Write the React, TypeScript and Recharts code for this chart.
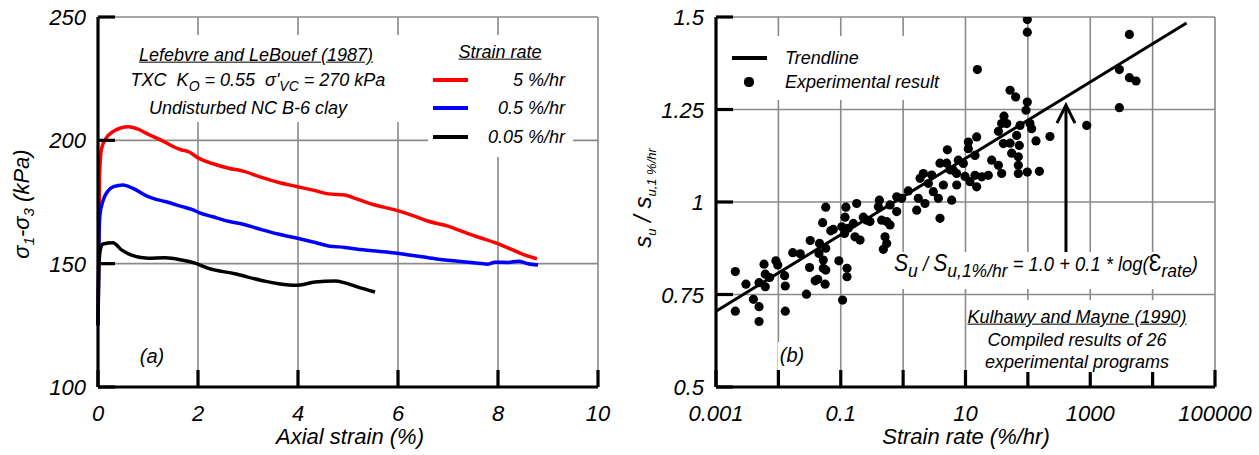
import {
  LineChart,
  Line,
  ScatterChart,
  Scatter,
  XAxis,
  YAxis,
  CartesianGrid,
  ReferenceLine,
} from 'recharts';

const FONT = '"Liberation Sans", Arial, Helvetica, sans-serif';

// (a) Lefebvre and LeBouef (1987), deviator stress vs axial strain
const strain5 = [0, 0.03, 0.07, 0.15, 0.3, 0.45, 0.61, 0.8, 1.0, 1.27, 1.5, 1.67, 1.8, 2.02, 2.3, 2.61, 2.9, 3.27, 3.6, 3.99, 4.3, 4.61, 4.94, 5.14, 5.5, 5.94, 6.3, 6.61, 7.0, 7.27, 7.6, 7.94, 8.27, 8.5, 8.78];
const stress5 = [125, 185, 196.5, 200.5, 203.5, 205, 205.5, 204.5, 202.5, 200, 197.5, 196.1, 195.5, 192.7, 190.5, 188.7, 187.5, 185, 183, 181.2, 179.8, 178.3, 177.8, 176.5, 174, 171.8, 169.5, 167.2, 165.2, 163.2, 160.8, 158.5, 155.8, 153.8, 152.0];

const strain05 = [0, 0.02, 0.04, 0.1, 0.2, 0.31, 0.5, 0.7, 0.94, 1.1, 1.34, 1.67, 1.9, 2.02, 2.3, 2.61, 2.9, 3.27, 3.6, 3.99, 4.3, 4.61, 4.94, 5.3, 5.6, 5.94, 6.3, 6.74, 7.2, 7.61, 7.8, 7.94, 8.2, 8.41, 8.6, 8.8];
const stress05 = [125, 160, 170, 175.5, 179.5, 181.2, 181.9, 180.5, 177.8, 176.5, 175.2, 173.2, 171.8, 170.7, 169, 167.2, 166, 163.8, 162, 160.3, 158.8, 157.2, 156.6, 155.6, 155, 154.3, 153.3, 152, 151, 150.2, 149.8, 150.6, 150.5, 151, 150, 149.5];

const strain005 = [0, 0.02, 0.05, 0.1, 0.3, 0.47, 0.67, 1.0, 1.34, 1.67, 1.94, 2.21, 2.74, 3.27, 3.81, 4.0, 4.34, 4.74, 4.94, 5.2, 5.54];
const stress005 = [125, 150, 156, 158, 158.5, 155.6, 153.5, 152.2, 152.4, 151.5, 150.2, 148.1, 145.9, 143.2, 141.4, 141.3, 142.6, 143, 142.2, 140.5, 138.5];

const strainTicks = [0, 2, 4, 6, 8, 10];
const stressTicks = [100, 150, 200, 250];

// (b) Kulhawy and Mayne (1990), normalised strength vs strain rate
const expRate = [
  0.00204, 0.00302, 0.00204, 0.00398, 0.0049, 0.0049, 0.0049, 0.00617, 0.00589, 0.00617,
  0.00724, 0.00912, 0.00977, 0.0126, 0.0129, 0.0129, 0.017, 0.0224, 0.0282, 0.0316,
  0.0324, 0.0389, 0.0427, 0.0457, 0.0447, 0.0513, 0.0575, 0.0562, 0.0525, 0.0525,
  0.0575, 0.0575, 0.0692, 0.0759, 0.0933, 0.107, 0.115, 0.126, 0.126,
  0.121, 0.117, 0.104, 0.132, 0.169, 0.204, 0.18, 0.23, 0.261, 0.294, 0.159,
  0.416, 0.401, 0.453, 0.545, 0.617, 0.513, 0.545, 0.482, 0.617, 0.789,
  0.789, 0.948, 1.21, 1.65, 1.75, 1.87, 2.11, 2.24, 2.54, 2.87,
  3.05, 3.67, 3.9, 3.9, 4.42, 4.99, 5.12, 5.65, 6.0, 7.23,
  11.8, 15.1,
  97.9, 97.9, 15.5, 51.8, 63.7, 97.9, 93.3, 41.4, 38.0, 33.7,
  45.7, 74.8, 108, 66.1, 115, 15.1, 11.1, 11.1, 14.2, 40.5,
  51.8, 72.9, 135, 226, 877, 2930, 4240, 4240, 5420, 2930,
  55, 70.3, 26.3, 33.7, 38.0, 70.3, 70.3, 97.9, 153, 23.2,
  18.2, 14.2, 9.82, 7.21, 6.38, 9.23, 7.67,
];
const expRatio = [
  0.812, 0.778, 0.705, 0.737, 0.717, 0.677, 0.782, 0.771, 0.832, 0.805,
  0.796, 0.841, 0.830, 0.801, 0.773, 0.705, 0.863, 0.860, 0.751, 0.823,
  0.896, 0.787, 0.791, 0.888, 0.861, 0.944, 0.986, 0.778, 0.843, 0.821,
  0.816, 0.875, 0.922, 0.926, 0.841, 0.735, 0.915, 0.821, 0.798,
  0.986, 0.959, 0.933, 0.929, 0.906, 0.897, 0.996, 0.959, 0.951, 0.947, 0.942,
  1.005, 0.987, 0.951, 0.947, 0.938, 0.906, 0.888, 0.872, 0.992, 0.974,
  1.014, 1.010, 1.030, 0.978, 1.010, 1.064, 1.077, 0.996, 1.050, 1.073,
  1.028, 1.010, 0.956, 1.105, 1.046, 1.105, 1.141, 1.087, 1.005, 1.046,
  1.055, 1.041,
  1.493, 1.459, 1.358, 1.302, 1.284, 1.270, 1.248, 1.232, 1.212, 1.191,
  1.212, 1.207, 1.212, 1.180, 1.198, 1.176, 1.162, 1.144, 1.126, 1.158,
  1.159, 1.153, 1.165, 1.177, 1.207, 1.358, 1.453, 1.336, 1.327, 1.255,
  1.132, 1.122, 1.113, 1.099, 1.077, 1.099, 1.077, 1.081, 1.083, 1.072,
  1.068, 1.072, 1.069, 1.077, 1.086, 1.104, 1.113,
];
const trendRate = [0.001, 35000];
const trendRatio = [0.705, 1.484];

const rateTicks = [0.001, 0.01, 0.1, 1, 10, 100, 1000, 10000, 100000];
const rateLabels = ['0.001', '', '0.1', '', '10', '', '1000', '', '100000'];
const ratioTicks = [0.5, 0.75, 1, 1.25, 1.5];
const ratioLabels = ['0.5', '0.75', '1', '1.25', '1.5'];

// arrow pointing at the trendline
const arrowRate = 408;
const arrowFrom = 0.857;
const arrowTo = 1.262;

const zip = (xs: number[], ys: number[]) => xs.map((x, i) => ({ x, y: ys[i] }));

const curve5 = zip(strain5, stress5);
const curve05 = zip(strain05, stress05);
const curve005 = zip(strain005, stress005);
const experiments = zip(expRate, expRatio);
const trend = zip(trendRate, trendRatio);

const GAP = 8;
const TICK_LEN = 17;
const TICK_W = 3.2;
const AXIS = { stroke: '#000', strokeWidth: 3.2 };
const GRID = '#8a8a8a';
const tickText = { fontFamily: FONT, fontStyle: 'italic', fontSize: 22, fill: '#000' } as const;

const bottomTick = (fmt: (v: number) => string) => (p: any) => {
  const axisY = p.y - GAP;
  const label = fmt(p.payload.value);
  return (
    <g>
      <line x1={p.x} x2={p.x} y1={axisY} y2={axisY - TICK_LEN} stroke="#000" strokeWidth={TICK_W} />
      {label && (
        <text x={p.x} y={axisY + 34} textAnchor="middle" style={tickText}>
          {label}
        </text>
      )}
    </g>
  );
};

const topTick = (p: any) => {
  const axisY = p.y + GAP;
  return <line x1={p.x} x2={p.x} y1={axisY} y2={axisY + TICK_LEN} stroke="#000" strokeWidth={TICK_W} />;
};

const leftTick = (fmt: (v: number) => string) => (p: any) => {
  const axisX = p.x + GAP;
  return (
    <g>
      <line x1={axisX} x2={axisX + TICK_LEN} y1={p.y} y2={p.y} stroke="#000" strokeWidth={TICK_W} />
      <text x={axisX - 12} y={p.y + 8} textAnchor="end" style={tickText}>
        {fmt(p.payload.value)}
      </text>
    </g>
  );
};

const rightTick = (p: any) => {
  const axisX = p.x - GAP;
  return <line x1={axisX} x2={axisX - TICK_LEN} y1={p.y} y2={p.y} stroke="#000" strokeWidth={TICK_W} />;
};

const Dot = (p: any) => <circle cx={p.cx} cy={p.cy} r={4.6} fill="#000" />;
const NoDot = () => <g />;

const Arrow = (p: any) => (
  <g stroke="#000" strokeWidth={3} fill="none">
    <line x1={p.x1} y1={p.y1} x2={p.x2} y2={p.y2} />
    <polyline points={`${p.x2 - 9},${p.y2 + 18} ${p.x2},${p.y2} ${p.x2 + 9},${p.y2 + 18}`} />
  </g>
);

function Note({ x, y, align = 'center', size = 18, underline = false, squeeze = 1, children }: any) {
  const tx = align === 'center' ? '-50%' : align === 'right' ? '-100%' : '0';
  return (
    <div
      style={{
        position: 'absolute',
        left: x,
        top: y,
        transform: `translate(${tx}, -50%) scaleX(${squeeze})`,
        transformOrigin: 'left center',
        whiteSpace: 'nowrap',
        fontFamily: FONT,
        fontStyle: 'italic',
        fontSize: size,
        lineHeight: 1.15,
        color: '#000',
        textDecoration: underline ? 'underline' : 'none',
      }}
    >
      {children}
    </div>
  );
}

function Mask({ x, y, w, h }: any) {
  return <div style={{ position: 'absolute', left: x, top: y, width: w, height: h, background: '#fff' }} />;
}

const Sub = ({ children, size = 14, drop = '-0.35em' }: any) => (
  <span style={{ fontSize: size, verticalAlign: drop }}>{children}</span>
);

const Swatch = ({ x, y, color }: any) => (
  <div style={{ position: 'absolute', left: x, top: y - 2, width: 35, height: 4, background: color }} />
);

export default function App() {
  return (
    <div style={{ position: 'fixed', left: 0, top: 0, width: 1259, height: 455, overflow: 'hidden', background: '#fff' }}>
      <div style={{ position: 'absolute', left: 0, top: 0 }}>
        <LineChart width={628} height={455} margin={{ top: 17, right: 30, bottom: 0, left: 0 }}>
          <CartesianGrid stroke={GRID} strokeWidth={1.6} />
          <XAxis
            dataKey="x"
            type="number"
            domain={[0, 10]}
            ticks={strainTicks}
            interval={0}
            height={68}
            tickSize={0}
            tickMargin={GAP}
            tickLine={false}
            axisLine={AXIS}
            tick={bottomTick((v) => String(v))}
          />
          <XAxis
            xAxisId="top"
            orientation="top"
            type="number"
            domain={[0, 10]}
            ticks={strainTicks}
            interval={0}
            height={0}
            tickSize={0}
            tickMargin={GAP}
            tickLine={false}
            axisLine={AXIS}
            tick={topTick}
          />
          <YAxis
            type="number"
            domain={[100, 250]}
            ticks={stressTicks}
            interval={0}
            width={98}
            tickSize={0}
            tickMargin={GAP}
            tickLine={false}
            axisLine={AXIS}
            tick={leftTick((v) => String(v))}
          />
          <YAxis
            yAxisId="right"
            orientation="right"
            type="number"
            domain={[100, 250]}
            ticks={stressTicks}
            interval={0}
            width={0}
            tickSize={0}
            tickMargin={GAP}
            tickLine={false}
            axisLine={AXIS}
            tick={rightTick}
          />
          <Line data={curve5} dataKey="y" type="monotone" stroke="#ff0000" strokeWidth={3.5} dot={false} isAnimationActive={false} />
          <Line data={curve05} dataKey="y" type="monotone" stroke="#0000ff" strokeWidth={3.5} dot={false} isAnimationActive={false} />
          <Line data={curve005} dataKey="y" type="monotone" stroke="#000000" strokeWidth={3.5} dot={false} isAnimationActive={false} />
        </LineChart>
      </div>

      <div style={{ position: 'absolute', left: 628, top: 0 }}>
        <ScatterChart width={631} height={455} margin={{ top: 17, right: 44, bottom: 0, left: 0 }}>
          <CartesianGrid stroke={GRID} strokeWidth={1.6} />
          <XAxis
            dataKey="x"
            type="number"
            scale="log"
            domain={[0.001, 100000]}
            allowDataOverflow
            ticks={rateTicks}
            interval={0}
            height={68}
            tickSize={0}
            tickMargin={GAP}
            tickLine={false}
            axisLine={AXIS}
            tick={bottomTick((v) => rateLabels[rateTicks.indexOf(v)] ?? '')}
          />
          <XAxis
            xAxisId="top"
            orientation="top"
            type="number"
            scale="log"
            domain={[0.001, 100000]}
            allowDataOverflow
            ticks={rateTicks}
            interval={0}
            height={0}
            tickSize={0}
            tickMargin={GAP}
            tickLine={false}
            axisLine={AXIS}
            tick={topTick}
          />
          <YAxis
            dataKey="y"
            type="number"
            domain={[0.5, 1.5]}
            allowDataOverflow
            ticks={ratioTicks}
            interval={0}
            width={88}
            tickSize={0}
            tickMargin={GAP}
            tickLine={false}
            axisLine={AXIS}
            tick={leftTick((v) => ratioLabels[ratioTicks.indexOf(v)] ?? '')}
          />
          <YAxis
            yAxisId="right"
            orientation="right"
            type="number"
            domain={[0.5, 1.5]}
            ticks={ratioTicks}
            interval={0}
            width={0}
            tickSize={0}
            tickMargin={GAP}
            tickLine={false}
            axisLine={AXIS}
            tick={rightTick}
          />
          <Scatter data={experiments} shape={Dot} isAnimationActive={false} />
          <Scatter
            data={trend}
            line={{ stroke: '#000', strokeWidth: 3 }}
            shape={NoDot}
            isAnimationActive={false}
          />
          <ReferenceLine
            segment={[
              { x: arrowRate, y: arrowFrom },
              { x: arrowRate, y: arrowTo },
            ]}
            shape={Arrow}
          />
        </ScatterChart>
      </div>

      {/* panel (a) annotations */}
      <Mask x={125} y={35} w={280} h={87} />
      <Mask x={428} y={35} w={145} h={122} />
      <Note x={256} y={55} underline>Lefebvre and LeBouef (1987)</Note>
      <Note x={258} y={82}>
        TXC&nbsp; K<Sub>O</Sub> = 0.55&nbsp; σ'<Sub>VC</Sub> = 270 kPa
      </Note>
      <Note x={248} y={108}>Undisturbed NC B-6 clay</Note>
      <Note x={500} y={52} underline>Strain rate</Note>
      <Swatch x={433} y={80} color="#ff0000" />
      <Swatch x={433} y={108} color="#0000ff" />
      <Swatch x={433} y={137} color="#000000" />
      <Note x={565} y={80} align="right">5 %/hr</Note>
      <Note x={565} y={108} align="right">0.5 %/hr</Note>
      <Note x={565} y={137} align="right">0.05 %/hr</Note>
      <Note x={152} y={356} size={20}>(a)</Note>
      <Note x={350} y={437} size={22}>Axial strain (%)</Note>
      <div
        style={{
          position: 'absolute',
          left: 23,
          top: 204,
          transform: 'translate(-50%, -50%) rotate(-90deg)',
          whiteSpace: 'nowrap',
          fontFamily: FONT,
          fontStyle: 'italic',
          fontSize: 22,
        }}
      >
        σ<Sub size={15}>1</Sub>-σ<Sub size={15}>3</Sub> (kPa)
      </div>

      {/* panel (b) annotations */}
      <Mask x={722} y={36} w={234} h={64} />
      <div style={{ position: 'absolute', left: 732, top: 56, width: 35, height: 3.5, background: '#000' }} />
      <div style={{ position: 'absolute', left: 744.4, top: 77.4, width: 9.2, height: 9.2, borderRadius: '50%', background: '#000' }} />
      <Note x={785} y={58} align="left">Trendline</Note>
      <Note x={785} y={82} align="left">Experimental result</Note>
      <Mask x={888} y={252} w={317} h={37} />
      <Note x={894} y={266} align="left" size={20} squeeze={0.92}>
        <span style={{ fontSize: 23 }}>S</span>
        <Sub size={19} drop="-0.3em">u</Sub> / <span style={{ fontSize: 23 }}>S</span>
        <Sub size={19} drop="-0.3em">u,1%/hr</Sub> = 1.0 + 0.1 * log(<span style={{ fontSize: 23, fontStyle: 'normal' }}>Ɛ</span>
        <Sub size={19} drop="-0.3em">rate</Sub>)
      </Note>
      <Mask x={968} y={300} w={222} h={72} />
      <Note x={1077} y={317} underline>Kulhawy and Mayne (1990)</Note>
      <Note x={1077} y={340}>Compiled results of 26</Note>
      <Note x={1077} y={362}>experimental programs</Note>
      <Mask x={778} y={342} w={28} h={28} />
      <Note x={792} y={355} size={20}>(b)</Note>
      <Note x={966} y={437} size={22}>Strain rate (%/hr)</Note>
      <div
        style={{
          position: 'absolute',
          left: 644,
          top: 198,
          transform: 'translate(-50%, -50%) rotate(-90deg)',
          whiteSpace: 'nowrap',
          fontFamily: FONT,
          fontStyle: 'italic',
          fontSize: 24,
        }}
      >
        s<Sub size={13}>u</Sub> / s<Sub size={13}>u,1 %/hr</Sub>
      </div>
    </div>
  );
}
